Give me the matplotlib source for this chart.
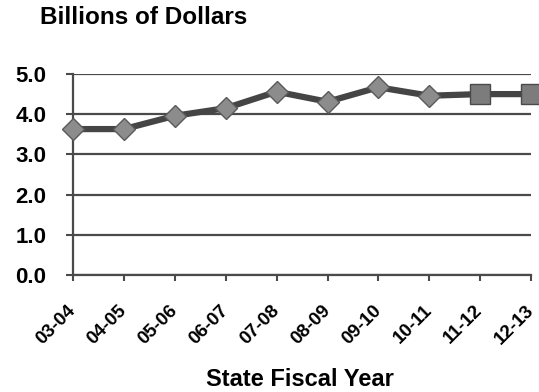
import matplotlib.pyplot as plt

years = ['03-04', '04-05', '05-06', '06-07', '07-08', '08-09', '09-10', '10-11', '11-12', '12-13']
spending = [3.63, 3.63, 3.96, 4.15, 4.56, 4.31, 4.67, 4.46, 4.50, 4.50]
n_actual = 8  # last two years are projections (square markers)

fig = plt.figure(figsize=(5.39, 3.92), dpi=100)
ax = fig.add_axes([0.1354, 0.2985, 0.85, 0.5127])

x = list(range(len(years)))
ax.plot(x, spending, color='#454545', lw=4.5, zorder=3, clip_on=False)
ax.plot(x[:n_actual], spending[:n_actual], ls='none', marker='D', ms=11,
        mfc='#8c8c8c', mec='#5a5a5a', mew=1, zorder=4, clip_on=False)
ax.plot(x[n_actual:], spending[n_actual:], ls='none', marker='s', ms=14,
        mfc='#7c7c7c', mec='#4a4a4a', mew=1, zorder=4, clip_on=False)

ax.set_xlim(0, len(years) - 1)
ax.set_ylim(0, 5)
ax.set_yticks([0, 1, 2, 3, 4, 5])
ax.set_yticklabels(['0.0', '1.0', '2.0', '3.0', '4.0', '5.0'],
                   fontsize=16, fontweight='bold', family='Liberation Sans')
ax.set_xticks(x)
ax.set_xticklabels(years, rotation=45, ha='right', va='center', rotation_mode='anchor',
                   fontsize=13.5, fontweight='bold', family='Liberation Sans')
ax.grid(axis='y', color='#4a4a4a', lw=1.6)
ax.tick_params(axis='y', length=5, width=1.5, color='#4a4a4a', pad=14)
ax.tick_params(axis='x', length=4.5, width=1.5, color='#4a4a4a', pad=19)

for side in ['top', 'right']:
    ax.spines[side].set_visible(False)
for side in ['left', 'bottom']:
    ax.spines[side].set_color('#4a4a4a')
    ax.spines[side].set_linewidth(1.6)

fig.text(0.074, 0.939, 'Billions of Dollars', fontsize=17.5, fontweight='bold',
         family='Liberation Sans', va='baseline')
fig.text(0.557, 0.016, 'State Fiscal Year', fontsize=17, fontweight='bold',
         family='Liberation Sans', ha='center', va='baseline')

fig.savefig('out.png', dpi=100)
